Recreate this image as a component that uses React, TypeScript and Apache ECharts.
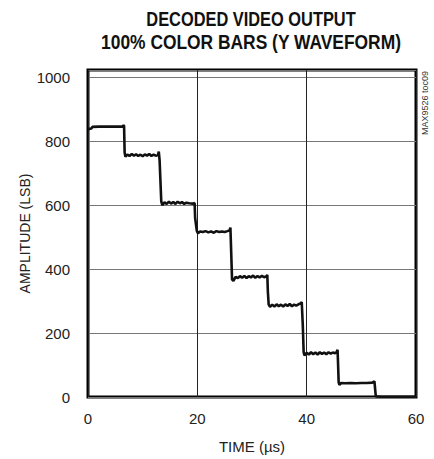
import React, { useEffect, useRef } from "react";
import * as echarts from "echarts";

const titleLines = ["DECODED VIDEO OUTPUT", "100% COLOR BARS (Y WAVEFORM)"];
const xTicks = [0, 20, 40, 60];
const yTicks = [0, 200, 400, 600, 800, 1000];
const xName = "TIME (µs)";
const yName = "AMPLITUDE (LSB)";
const noteText = "MAX9526 toc09";

// [time (µs), amplitude (LSB)]
const yWaveform: [number, number][] = [
  [0, 838], [0.6, 840], [0.8, 845], [2, 846], [3.5, 846], [5, 846], [6.3, 846], [6.5, 850], [6.6, 848],
  [6.7, 765], [6.85, 752], [7.2, 758], [7.6, 754], [8, 760], [8.4, 755], [8.8, 759], [9.2, 754], [9.6, 758], [10, 753], [10.4, 759], [10.8, 755], [11.2, 760], [11.6, 754], [12, 758], [12.4, 755], [12.8, 757], [12.95, 768],
  [13.1, 740], [13.4, 612], [13.6, 600], [14, 609], [14.4, 604], [14.8, 611], [15.2, 605], [15.6, 610], [16, 604], [16.4, 611], [16.8, 606], [17.2, 610], [17.6, 604], [18, 608], [18.5, 606], [19.2, 605], [19.5, 607],
  [19.6, 560], [19.9, 520], [20.1, 512], [20.5, 518], [21, 516], [21.5, 519], [22, 515], [22.5, 518], [23, 514], [23.5, 519], [24, 516], [24.5, 518], [25, 516], [25.5, 519], [25.9, 522], [26.05, 530], [26.1, 528],
  [26.2, 450], [26.35, 368], [26.6, 363], [27, 376], [27.4, 372], [27.8, 378], [28.2, 373], [28.6, 379], [29, 372], [29.4, 378], [29.8, 374], [30.2, 380], [30.6, 373], [31, 378], [31.4, 374], [31.8, 379], [32.2, 375], [32.6, 377], [32.8, 382],
  [32.9, 330], [33.05, 290], [33.3, 282], [33.7, 289], [34.1, 283], [34.5, 290], [34.9, 284], [35.3, 289], [35.7, 283], [36.1, 290], [36.5, 285], [36.9, 291], [37.3, 284], [37.7, 289], [38.1, 286], [38.5, 290], [38.9, 293], [39.1, 297], [39.2, 296],
  [39.3, 220], [39.45, 140], [39.6, 130], [40, 138], [40.4, 133], [40.8, 140], [41.2, 134], [41.6, 139], [42, 133], [42.4, 140], [42.8, 135], [43.2, 139], [43.6, 134], [44, 140], [44.4, 136], [44.8, 139], [45.2, 137], [45.5, 141], [45.65, 148],
  [45.75, 100], [45.85, 46], [46, 38], [46.3, 44], [47, 43], [48, 44], [49, 43], [50, 44], [51, 44], [52, 45], [52.4, 49],
  [52.55, 20], [52.65, 2], [53.5, 1], [60, 1],
];

const FONT = "'Liberation Sans', Arial, sans-serif";

export default function App() {
  const ref = useRef<HTMLDivElement>(null);
  useEffect(() => {
    if (!ref.current) return;
    const chart = echarts.init(ref.current, null, { renderer: "svg" });
    chart.setOption({
      animation: false,
      backgroundColor: "#fff",
      grid: {
        left: 88,
        right: 18,
        top: 70,
        bottom: 61,
        show: true,
        borderColor: "#000",
        borderWidth: 3,
        backgroundColor: "transparent",
      },
      xAxis: {
        type: "value",
        min: xTicks[0],
        max: xTicks[xTicks.length - 1],
        interval: 20,
        name: xName,
        nameLocation: "middle",
        nameGap: 42,
        nameMoveOverlap: false,
        nameTextStyle: { fontFamily: FONT, fontSize: 15, color: "#222" },
        axisLine: { show: false },
        axisTick: { show: false },
        axisLabel: { fontFamily: FONT, fontSize: 15, color: "#222", margin: 14 },
        splitLine: { show: true, lineStyle: { color: "#222", width: 1 } },
      },
      yAxis: {
        type: "value",
        min: yTicks[0],
        max: 1023,
        interval: 200,
        name: yName,
        nameLocation: "middle",
        nameGap: 56,
        nameMoveOverlap: false,
        nameTextStyle: { fontFamily: FONT, fontSize: 14, color: "#222" },
        axisLine: { show: false },
        axisTick: { show: false },
        axisLabel: {
          fontFamily: FONT,
          fontSize: 15,
          color: "#222",
          margin: 18,
          formatter: (v: number) => (yTicks.indexOf(v) >= 0 ? String(v) : ""),
        },
        splitLine: { show: true, lineStyle: { color: "#777", width: 1 } },
      },
      series: [
        {
          type: "line",
          data: yWaveform,
          showSymbol: false,
          symbol: "none",
          lineStyle: { color: "#111", width: 2.6 },
          silent: true,
        },
      ],
      graphic: [
        {
          type: "text",
          x: 251,
          y: 19,
          scaleX: 0.82,
          style: {
            text: titleLines[0],
            fontFamily: FONT,
            fontWeight: "bold",
            fontSize: 20,
            fill: "#111",
            align: "center",
            verticalAlign: "middle",
          },
        },
        {
          type: "text",
          x: 251,
          y: 42,
          scaleX: 0.87,
          style: {
            text: titleLines[1],
            fontFamily: FONT,
            fontWeight: "bold",
            fontSize: 20,
            fill: "#111",
            align: "center",
            verticalAlign: "middle",
          },
        },
        {
          type: "text",
          x: 425,
          y: 103,
          rotation: Math.PI / 2,
          style: {
            text: noteText,
            fontFamily: FONT,
            fontSize: 9,
            fill: "#333",
            align: "center",
            verticalAlign: "middle",
          },
        },
      ],
    });
    return () => chart.dispose();
  }, []);
  return <div ref={ref} style={{ width: 434, height: 459, position: "absolute", left: 0, top: 0 }} />;
}
